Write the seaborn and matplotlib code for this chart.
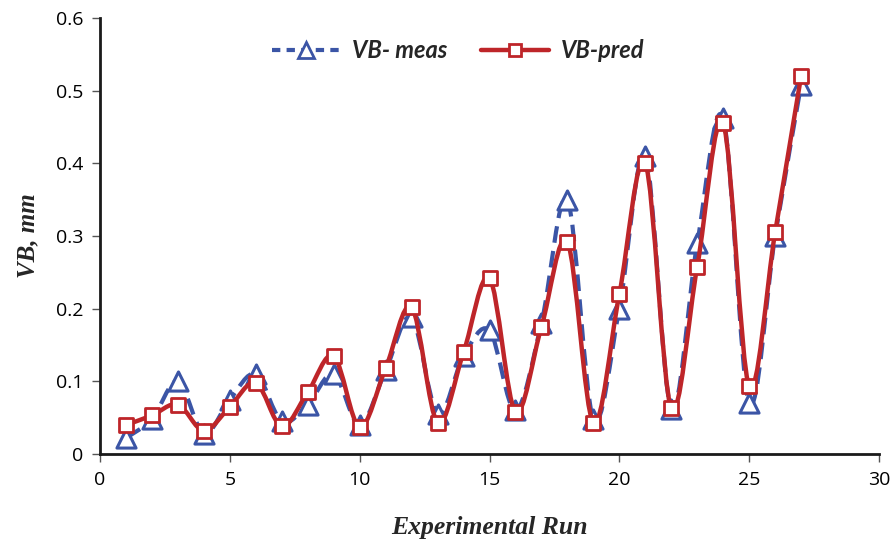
import numpy as np
import pandas as pd
import matplotlib
matplotlib.use("Agg")
import matplotlib.pyplot as plt
from matplotlib.path import Path
from matplotlib.patches import PathPatch
from matplotlib.lines import Line2D
import seaborn as sns

runs = list(range(1, 28))
vb_meas = [0.022, 0.048, 0.100, 0.028, 0.075, 0.110, 0.045, 0.068, 0.110, 0.040,
           0.115, 0.188, 0.055, 0.135, 0.170, 0.060, 0.180, 0.350, 0.048, 0.200,
           0.410, 0.062, 0.290, 0.462, 0.070, 0.300, 0.508]
vb_pred = [0.040, 0.053, 0.068, 0.032, 0.065, 0.098, 0.038, 0.085, 0.135, 0.037,
           0.118, 0.202, 0.043, 0.140, 0.242, 0.058, 0.175, 0.292, 0.043, 0.220,
           0.400, 0.063, 0.258, 0.455, 0.093, 0.305, 0.520]
x_ticks = [0, 5, 10, 15, 20, 25, 30]
y_ticks = [0, 0.1, 0.2, 0.3, 0.4, 0.5, 0.6]
y_tick_labels = ["0", "0.1", "0.2", "0.3", "0.4", "0.5", "0.6"]

df = pd.DataFrame({"run": runs, "meas": vb_meas, "pred": vb_pred})

sns.set_style("white")
plt.rcParams['font.family'] = ['Open Sans', 'DejaVu Sans']

blue = "#3b55a6"
red = "#be2529"

fig = plt.figure(figsize=(8.93, 5.4), dpi=100)
ax = fig.add_axes([100/893, 86/540, 779/893, 436/540])


def smooth_path(xs, ys):
    pts = np.column_stack([xs, ys]).astype(float)
    n = len(pts)
    verts = [pts[0]]
    codes = [Path.MOVETO]
    for i in range(n - 1):
        p0 = pts[i - 1] if i > 0 else pts[i]
        p1 = pts[i]
        p2 = pts[i + 1]
        p3 = pts[i + 2] if i + 2 < n else pts[i + 1]
        c1 = p1 + (p2 - p0) / 6.0
        c2 = p2 - (p3 - p1) / 6.0
        verts += [c1, c2, p2]
        codes += [Path.CURVE4] * 3
    return Path(verts, codes)


pm = PathPatch(smooth_path(df["run"], df["meas"]), fill=False, edgecolor=blue,
               lw=3.0, linestyle=(0, (4, 2)), zorder=2)
ax.add_patch(pm)
sns.scatterplot(data=df, x="run", y="meas", marker="^", s=190, color="white",
                edgecolor=blue, linewidth=2.2, ax=ax, zorder=3)
pp = PathPatch(smooth_path(df["run"], df["pred"]), fill=False, edgecolor=red,
               lw=3.2, zorder=4)
ax.add_patch(pp)
sns.scatterplot(data=df, x="run", y="pred", marker="s", s=110, color="white",
                edgecolor=red, linewidth=2.0, ax=ax, zorder=5)

ax.set_xlim(0, 30)
ax.set_ylim(0, 0.6)
ax.set_xticks(x_ticks)
ax.set_xticklabels([str(t) for t in x_ticks])
ax.set_yticks(y_ticks)
ax.set_yticklabels(y_tick_labels)
ax.tick_params(axis="both", direction="out", length=6, width=1.0, color="#555555",
               labelcolor="black", labelsize=14, pad=6, bottom=True, left=True)
for s in ["top", "right"]:
    ax.spines[s].set_visible(False)
for s in ["left", "bottom"]:
    ax.spines[s].set_color("#1a1a1a")
    ax.spines[s].set_linewidth(2.0)

ax.set_xlabel("Experimental Run", family="Liberation Serif", fontsize=18.5,
              fontweight="bold", style="italic", labelpad=20)
ax.set_ylabel("VB, mm", family="Liberation Serif", fontsize=18,
              fontweight="bold", style="italic", labelpad=12)

handles = [
    Line2D([], [], color=blue, lw=3.0, linestyle=(0, (2, 1.5)), marker="^",
           markersize=12, markerfacecolor="white", markeredgecolor=blue, markeredgewidth=2),
    Line2D([], [], color=red, lw=3.2, marker="s", markersize=9,
           markerfacecolor="white", markeredgecolor=red, markeredgewidth=2),
]
leg = ax.legend(handles, ["VB- meas", "VB-pred"], loc="upper center",
                bbox_to_anchor=(0.46, 1.0), ncol=2, frameon=False,
                handlelength=2.9, columnspacing=1.4, handletextpad=0.5,
                prop={"family": "Lato", "weight": "bold", "style": "italic", "size": 17})

fig.savefig("out.png", dpi=100)
